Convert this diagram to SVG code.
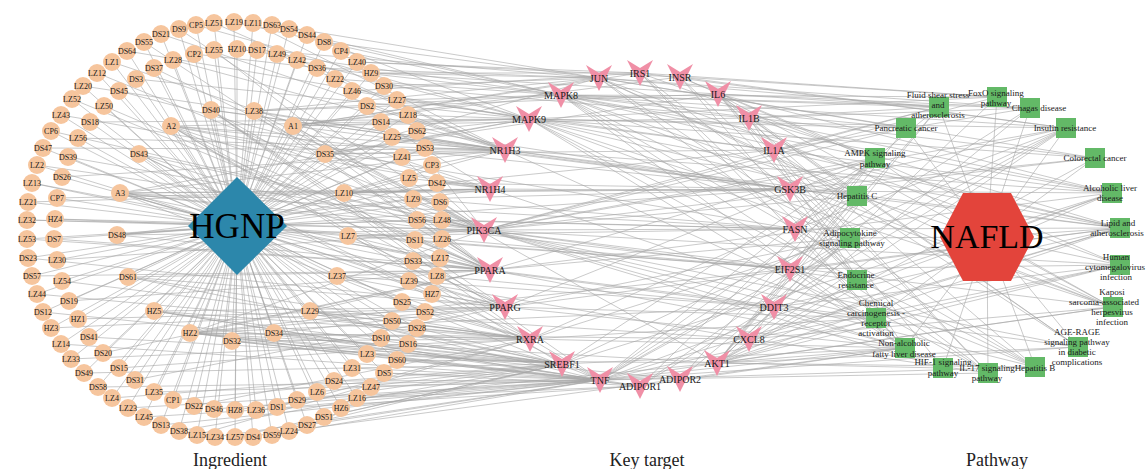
<svg xmlns="http://www.w3.org/2000/svg" xmlns:xlink="http://www.w3.org/1999/xlink" width="1146" height="469" viewBox="0 0 1146 469">
<style>
text{font-family:"Liberation Serif","Times New Roman",serif;fill:#1a1a1a}
.i circle{fill:#F6C59D}
.i text{font-size:8px;text-anchor:middle}
.t use{fill:#F08FA6}
.t text{font-size:10px;text-anchor:middle}
.p rect{fill:#63B967}
.p text{font-size:9px;text-anchor:middle}
#connectors path{fill:none;stroke:#A6A6A6;stroke-width:0.6}
.big{text-anchor:middle;fill:#000}
.cap{font-size:18px;text-anchor:middle;fill:#222}
</style>
<defs>
<path id="chev" d="M-13 -13L0 -5L13 -13L0 13Z"/>
</defs>
<rect width="1146" height="469" fill="#fff"/>
<g id="connectors">
<path id="e-hgnp" d="M237 226L43 148M237 226L51 131M237 226L61 115M237 226L72 99M237 226L83 86M237 226L97 73M237 226L112 62M237 226L127 51M237 226L144 42M237 226L161 34M237 226L179 29M237 226L196 25M237 226L214 23M237 226L234 22M237 226L253 23M237 226L272 25M237 226L289 29M237 226L307 35M237 226L324 42M237 226L341 51M237 226L357 62M237 226L371 73M237 226L384 86M237 226L397 100M237 226L408 115M237 226L417 131M237 226L425 148M237 226L432 165M237 226L437 183M237 226L440 202M237 226L442 220M237 226L442 239M237 226L440 258M237 226L437 276M237 226L432 294M237 226L425 312M237 226L417 328M237 226L408 344M237 226L397 360M237 226L384 373M237 226L371 387M237 226L357 398M237 226L341 408M237 226L324 417M237 226L307 425M237 226L289 431M237 226L272 435M237 226L253 437M237 226L235 437M237 226L215 437M237 226L197 435M237 226L179 431M237 226L161 425M237 226L144 417M237 226L128 408M237 226L112 398M237 226L98 387M237 226L84 373M237 226L71 359M237 226L61 344M237 226L51 328M237 226L43 312M237 226L37 294M237 226L32 276M237 226L28 258M237 226L27 239M237 226L27 220M237 226L28 202M237 226L32 183M237 226L37 165M237 226L237 49M237 226L257 50M237 226L277 54M237 226L297 60M237 226L317 68M237 226L335 79M237 226L352 91M237 226L367 106M237 226L381 122M237 226L392 137M237 226L402 157M237 226L409 178M237 226L413 199M237 226L417 220M237 226L415 240M237 226L413 261M237 226L409 281M237 226L402 302M237 226L392 321M237 226L381 338M237 226L367 354M237 226L352 368M237 226L334 381M237 226L317 392M237 226L297 400M237 226L277 407M237 226L256 410M237 226L235 410M237 226L214 409M237 226L194 406M237 226L173 400M237 226L154 392M237 226L135 380M237 226L119 368M237 226L103 353M237 226L89 337M237 226L78 319M237 226L69 301M237 226L62 281M237 226L57 260M237 226L54 239M237 226L55 219M237 226L57 198M237 226L62 177M237 226L68 157M237 226L78 138M237 226L90 122M237 226L104 106M237 226L119 91M237 226L136 79M237 226L154 68M237 226L173 60M237 226L194 54M237 226L214 50M237 226L211 110M237 226L254 111M237 226L171 126M237 226L293 126M237 226L139 154M237 226L325 154M237 226L120 193M237 226L344 193M237 226L117 235M237 226L348 236M237 226L128 277M237 226L337 276M237 226L154 311M237 226L310 311M237 226L190 333M237 226L274 333M237 226L232 341"/>
<path id="e-hub-target" d="M211 110L490 270M211 110L505 307M211 110L530 339M211 110L600 380M211 110L505 150M211 110L790 189M254 111L561 95M254 111L599 78M254 111L505 150M254 111L484 230M254 111L490 270M254 111L718 94M171 126L490 270M171 126L505 307M171 126L484 230M171 126L490 189M171 126L505 150M171 126L529 119M171 126L562 364M171 126L600 380M171 126L790 189M171 126L795 229M293 126L599 78M293 126L561 95M293 126L529 119M293 126L640 73M293 126L680 77M293 126L749 118M293 126L484 230M293 126L490 270M293 126L790 189M293 126L717 363M139 154L490 270M139 154L484 230M139 154L600 380M139 154L530 339M325 154L529 119M325 154L505 150M325 154L599 78M325 154L718 94M325 154L774 150M120 193L484 230M120 193L490 270M120 193L505 307M120 193L490 189M120 193L505 150M120 193L529 119M120 193L790 189M120 193L795 229M120 193L790 269M120 193L600 380M344 193L505 150M344 193L490 189M344 193L484 230M344 193L790 189M344 193L774 150M344 193L795 229M117 235L484 230M117 235L490 270M117 235L490 189M117 235L790 189M348 236L484 230M348 236L490 270M348 236L505 307M348 236L795 229M348 236L790 269M128 277L490 270M128 277L505 307M128 277L530 339M128 277L562 364M337 276L505 307M337 276L530 339M337 276L490 270M337 276L774 307M154 311L530 339M154 311L562 364M154 311L600 380M154 311L505 307M154 311L640 386M310 311L562 364M310 311L600 380M310 311L530 339M310 311L490 270M310 311L749 339M190 333L490 270M190 333L505 307M190 333L530 339M190 333L562 364M190 333L600 380M190 333L640 386M190 333L680 379M190 333L717 363M190 333L749 339M190 333L774 307M190 333L790 269M190 333L484 230M274 333L530 339M274 333L562 364M274 333L600 380M274 333L505 307M232 341L562 364M232 341L600 380M232 341L640 386M232 341L530 339"/>
<path id="e-outer-target" d="M432 165L505 150M432 165L484 230M437 183L490 189M437 183L790 189M440 202L484 230M442 220L484 230M442 220L795 229M442 239L490 270M442 239L790 269M440 258L490 270M437 276L505 307M437 276L774 307M432 294L505 307M425 312L530 339M417 328L530 339M417 328L562 364M408 344L562 364M397 360L600 380M397 360L717 363M384 373L600 380M384 373L640 386M371 387L600 380M357 398L640 386M357 398L717 363M341 408L600 380M324 417L562 364M307 425L600 380M289 431L680 379M272 435L600 380M253 437L562 364M425 148L505 150M417 131L529 119M417 131L790 189M408 115L529 119M408 115L505 150M397 100L561 95M397 100L774 150M384 86L599 78M384 86L749 118M371 73L599 78M371 73L640 73M371 73L718 94M357 62L640 73M357 62L680 77M341 51L561 95M324 42L599 78M307 35L561 95M289 29L529 119M272 25L599 78M253 23L505 150M234 22L561 95M214 23L505 150M196 25L529 119M179 29L484 230M161 34L505 150M144 42L490 270M127 51L529 119M112 62L490 189M97 73L484 230M83 86L505 150M72 99L490 270M61 115L490 189M51 131L484 230M43 148L505 150M37 165L484 230M32 183L490 270M28 202L490 189M27 220L484 230M27 239L490 270M28 258L505 307M32 276L490 270M37 294L530 339M43 312L562 364M51 328L505 307M61 344L600 380M71 359L530 339M84 373L562 364M98 387L600 380M112 398L562 364M128 408L600 380M144 417L640 386M161 425L600 380M179 431L562 364M197 435L530 339M215 437L600 380M235 437L562 364"/>
<path id="e-inner-target" d="M237 49L561 95M257 50L599 78M277 54L505 150M297 60L529 119M317 68L599 78M335 79L561 95M352 91L529 119M352 91L640 73M367 106L505 150M381 122L490 189M392 137L505 150M392 137L790 189M402 157L484 230M409 178L490 189M413 199L484 230M413 199L790 189M417 220L484 230M417 220L795 229M415 240L490 270M415 240L790 269M413 261L490 270M413 261L774 307M409 281L505 307M409 281L749 339M402 302L530 339M392 321L530 339M381 338L562 364M367 354L562 364M352 368L600 380M334 381L600 380M317 392L562 364M297 400L600 380M277 407L530 339M256 410L600 380M235 410L562 364M214 409L600 380M194 406L530 339M173 400L562 364M154 392L600 380M135 380L505 307M119 368L530 339M103 353L490 270M89 337L562 364M78 319L505 307M69 301L490 270M62 281L530 339M57 260L484 230M54 239L490 270M55 219L484 230M57 198L490 189M62 177L505 150M68 157L484 230M78 138L505 150M90 122L529 119M104 106L490 270M119 91L490 189M136 79L529 119M154 68L484 230M173 60L505 150M194 54L561 95M214 50L490 270"/>
<path id="e-target-pathway" d="M599 78L939 107M599 78L906 128M599 78L857 196M599 78L1035 367M599 78L1120 265M599 78L1112 307M599 78L988 373M599 78L1095 158M599 78L1030 108M640 73L1066 128M640 73L997 97M640 73L875 158M640 73L850 238M640 73L905 348M640 73L857 280M680 77L1066 128M680 77L997 97M680 77L875 158M680 77L850 238M680 77L857 280M680 77L1120 265M718 94L988 373M718 94L1035 367M718 94L857 196M718 94L1030 108M718 94L1078 347M718 94L1112 307M718 94L943 368M718 94L850 238M718 94L939 107M718 94L1112 193M749 118L988 373M749 118L1030 108M749 118L1078 347M749 118L939 107M749 118L1120 228M749 118L1112 193M749 118L905 348M774 150L1030 108M774 150L1078 347M774 150L1120 228M774 150L939 107M790 189L857 196M790 189L1095 158M790 189L1066 128M790 189L1112 307M790 189L857 280M790 189L1120 228M795 229L875 158M795 229L905 348M795 229L1066 128M795 229L850 238M790 269L857 196M790 269L1035 367M790 269L1120 265M790 269L1120 228M790 269L905 348M774 307L1120 228M774 307L905 348M774 307L1078 347M774 307L1120 265M749 339L988 373M749 339L1112 307M749 339L1120 265M749 339L1030 108M749 339L1120 228M749 339L939 107M717 363L997 97M717 363L875 158M717 363L1066 128M717 363L857 196M717 363L1035 367M717 363L943 368M717 363L1095 158M717 363L1112 307M717 363L1078 347M717 363L906 128M717 363L857 280M717 363L876 318M717 363L905 348M717 363L850 238M717 363L1120 265M717 363L1120 228M717 363L1112 193M717 363L939 107M680 379L875 158M680 379L850 238M680 379L905 348M640 386L875 158M640 386L850 238M640 386L905 348M640 386L1066 128M600 380L988 373M600 380L1035 367M600 380L857 196M600 380L850 238M600 380L1066 128M600 380L1112 193M600 380L1120 228M600 380L1078 347M600 380L905 348M600 380L1120 265M600 380L1030 108M600 380L939 107M600 380L1112 307M562 364L875 158M562 364L1066 128M562 364L1112 193M562 364L905 348M530 339L850 238M530 339L905 348M530 339L876 318M530 339L857 196M505 307L850 238M505 307L876 318M505 307L905 348M505 307L875 158M505 307L1120 228M490 270L850 238M490 270L876 318M490 270L875 158M490 270L905 348M490 270L1112 193M484 230L997 97M484 230L875 158M484 230L1066 128M484 230L857 196M484 230L1035 367M484 230L943 368M484 230L1095 158M484 230L1112 307M484 230L1078 347M484 230L906 128M484 230L857 280M484 230L876 318M484 230L905 348M484 230L1120 265M484 230L1120 228M484 230L939 107M490 189L876 318M490 189L1112 193M505 150L876 318M505 150L1112 193M505 150L1120 228M529 119L997 97M529 119L1066 128M529 119L1035 367M529 119L857 196M529 119L850 238M529 119L1095 158M529 119L1120 228M529 119L905 348M529 119L1112 193M529 119L906 128M529 119L988 373M529 119L1112 307M561 95L997 97M561 95L1066 128M561 95L1035 367M561 95L857 196M561 95L850 238M561 95L1095 158M561 95L1120 228M561 95L905 348M561 95L1112 193M561 95L906 128M561 95L988 373M561 95L1112 307M561 95L875 158M561 95L1030 108M561 95L939 107"/>
<path id="e-pathway-nafld" d="M987 237L939 107M987 237L997 97M987 237L1030 108M987 237L1066 128M987 237L1095 158M987 237L1112 193M987 237L1120 228M987 237L1120 265M987 237L1112 307M987 237L1078 347M987 237L1035 367M987 237L988 373M987 237L943 368M987 237L905 348M987 237L876 318M987 237L857 280M987 237L850 238M987 237L857 196M987 237L875 158M987 237L906 128"/>
</g>
<g id="nodes">
<g id="ing-DS47" class="i" transform="translate(43 148)"><circle r="9"/><text y="3">DS47</text></g>
<g id="ing-CP6" class="i" transform="translate(51 131)"><circle r="9"/><text y="3">CP6</text></g>
<g id="ing-LZ43" class="i" transform="translate(61 115)"><circle r="9"/><text y="3">LZ43</text></g>
<g id="ing-LZ52" class="i" transform="translate(72 99)"><circle r="9"/><text y="3">LZ52</text></g>
<g id="ing-LZ20" class="i" transform="translate(83 86)"><circle r="9"/><text y="3">LZ20</text></g>
<g id="ing-LZ12" class="i" transform="translate(97 73)"><circle r="9"/><text y="3">LZ12</text></g>
<g id="ing-LZ1" class="i" transform="translate(112 62)"><circle r="9"/><text y="3">LZ1</text></g>
<g id="ing-DS64" class="i" transform="translate(127 51)"><circle r="9"/><text y="3">DS64</text></g>
<g id="ing-DS55" class="i" transform="translate(144 42)"><circle r="9"/><text y="3">DS55</text></g>
<g id="ing-DS21" class="i" transform="translate(161 34)"><circle r="9"/><text y="3">DS21</text></g>
<g id="ing-DS9" class="i" transform="translate(179 29)"><circle r="9"/><text y="3">DS9</text></g>
<g id="ing-CP5" class="i" transform="translate(196 25)"><circle r="9"/><text y="3">CP5</text></g>
<g id="ing-LZ51" class="i" transform="translate(214 23)"><circle r="9"/><text y="3">LZ51</text></g>
<g id="ing-LZ19" class="i" transform="translate(234 22)"><circle r="9"/><text y="3">LZ19</text></g>
<g id="ing-LZ11" class="i" transform="translate(253 23)"><circle r="9"/><text y="3">LZ11</text></g>
<g id="ing-DS63" class="i" transform="translate(272 25)"><circle r="9"/><text y="3">DS63</text></g>
<g id="ing-DS54" class="i" transform="translate(289 29)"><circle r="9"/><text y="3">DS54</text></g>
<g id="ing-DS44" class="i" transform="translate(307 35)"><circle r="9"/><text y="3">DS44</text></g>
<g id="ing-DS8" class="i" transform="translate(324 42)"><circle r="9"/><text y="3">DS8</text></g>
<g id="ing-CP4" class="i" transform="translate(341 51)"><circle r="9"/><text y="3">CP4</text></g>
<g id="ing-LZ40" class="i" transform="translate(357 62)"><circle r="9"/><text y="3">LZ40</text></g>
<g id="ing-HZ9" class="i" transform="translate(371 73)"><circle r="9"/><text y="3">HZ9</text></g>
<g id="ing-DS30" class="i" transform="translate(384 86)"><circle r="9"/><text y="3">DS30</text></g>
<g id="ing-LZ27" class="i" transform="translate(397 100)"><circle r="9"/><text y="3">LZ27</text></g>
<g id="ing-LZ18" class="i" transform="translate(408 115)"><circle r="9"/><text y="3">LZ18</text></g>
<g id="ing-DS62" class="i" transform="translate(417 131)"><circle r="9"/><text y="3">DS62</text></g>
<g id="ing-DS53" class="i" transform="translate(425 148)"><circle r="9"/><text y="3">DS53</text></g>
<g id="ing-CP3" class="i" transform="translate(432 165)"><circle r="9"/><text y="3">CP3</text></g>
<g id="ing-DS42" class="i" transform="translate(437 183)"><circle r="9"/><text y="3">DS42</text></g>
<g id="ing-DS6" class="i" transform="translate(440 202)"><circle r="9"/><text y="3">DS6</text></g>
<g id="ing-LZ48" class="i" transform="translate(442 220)"><circle r="9"/><text y="3">LZ48</text></g>
<g id="ing-LZ26" class="i" transform="translate(442 239)"><circle r="9"/><text y="3">LZ26</text></g>
<g id="ing-LZ17" class="i" transform="translate(440 258)"><circle r="9"/><text y="3">LZ17</text></g>
<g id="ing-LZ8" class="i" transform="translate(437 276)"><circle r="9"/><text y="3">LZ8</text></g>
<g id="ing-HZ7" class="i" transform="translate(432 294)"><circle r="9"/><text y="3">HZ7</text></g>
<g id="ing-DS52" class="i" transform="translate(425 312)"><circle r="9"/><text y="3">DS52</text></g>
<g id="ing-DS28" class="i" transform="translate(417 328)"><circle r="9"/><text y="3">DS28</text></g>
<g id="ing-DS16" class="i" transform="translate(408 344)"><circle r="9"/><text y="3">DS16</text></g>
<g id="ing-DS60" class="i" transform="translate(397 360)"><circle r="9"/><text y="3">DS60</text></g>
<g id="ing-DS5" class="i" transform="translate(384 373)"><circle r="9"/><text y="3">DS5</text></g>
<g id="ing-LZ47" class="i" transform="translate(371 387)"><circle r="9"/><text y="3">LZ47</text></g>
<g id="ing-LZ16" class="i" transform="translate(357 398)"><circle r="9"/><text y="3">LZ16</text></g>
<g id="ing-HZ6" class="i" transform="translate(341 408)"><circle r="9"/><text y="3">HZ6</text></g>
<g id="ing-DS51" class="i" transform="translate(324 417)"><circle r="9"/><text y="3">DS51</text></g>
<g id="ing-DS27" class="i" transform="translate(307 425)"><circle r="9"/><text y="3">DS27</text></g>
<g id="ing-LZ24" class="i" transform="translate(289 431)"><circle r="9"/><text y="3">LZ24</text></g>
<g id="ing-DS59" class="i" transform="translate(272 435)"><circle r="9"/><text y="3">DS59</text></g>
<g id="ing-DS4" class="i" transform="translate(253 437)"><circle r="9"/><text y="3">DS4</text></g>
<g id="ing-LZ57" class="i" transform="translate(235 437)"><circle r="9"/><text y="3">LZ57</text></g>
<g id="ing-LZ34" class="i" transform="translate(215 437)"><circle r="9"/><text y="3">LZ34</text></g>
<g id="ing-LZ15" class="i" transform="translate(197 435)"><circle r="9"/><text y="3">LZ15</text></g>
<g id="ing-DS38" class="i" transform="translate(179 431)"><circle r="9"/><text y="3">DS38</text></g>
<g id="ing-DS13" class="i" transform="translate(161 425)"><circle r="9"/><text y="3">DS13</text></g>
<g id="ing-LZ45" class="i" transform="translate(144 417)"><circle r="9"/><text y="3">LZ45</text></g>
<g id="ing-LZ23" class="i" transform="translate(128 408)"><circle r="9"/><text y="3">LZ23</text></g>
<g id="ing-LZ4" class="i" transform="translate(112 398)"><circle r="9"/><text y="3">LZ4</text></g>
<g id="ing-DS58" class="i" transform="translate(98 387)"><circle r="9"/><text y="3">DS58</text></g>
<g id="ing-DS49" class="i" transform="translate(84 373)"><circle r="9"/><text y="3">DS49</text></g>
<g id="ing-LZ33" class="i" transform="translate(71 359)"><circle r="9"/><text y="3">LZ33</text></g>
<g id="ing-LZ14" class="i" transform="translate(61 344)"><circle r="9"/><text y="3">LZ14</text></g>
<g id="ing-HZ3" class="i" transform="translate(51 328)"><circle r="9"/><text y="3">HZ3</text></g>
<g id="ing-DS12" class="i" transform="translate(43 312)"><circle r="9"/><text y="3">DS12</text></g>
<g id="ing-LZ44" class="i" transform="translate(37 294)"><circle r="9"/><text y="3">LZ44</text></g>
<g id="ing-DS57" class="i" transform="translate(32 276)"><circle r="9"/><text y="3">DS57</text></g>
<g id="ing-DS23" class="i" transform="translate(28 258)"><circle r="9"/><text y="3">DS23</text></g>
<g id="ing-LZ53" class="i" transform="translate(27 239)"><circle r="9"/><text y="3">LZ53</text></g>
<g id="ing-LZ32" class="i" transform="translate(27 220)"><circle r="9"/><text y="3">LZ32</text></g>
<g id="ing-LZ21" class="i" transform="translate(28 202)"><circle r="9"/><text y="3">LZ21</text></g>
<g id="ing-LZ13" class="i" transform="translate(32 183)"><circle r="9"/><text y="3">LZ13</text></g>
<g id="ing-LZ2" class="i" transform="translate(37 165)"><circle r="9"/><text y="3">LZ2</text></g>
<g id="ing-HZ10" class="i" transform="translate(237 49)"><circle r="9"/><text y="3">HZ10</text></g>
<g id="ing-DS17" class="i" transform="translate(257 50)"><circle r="9"/><text y="3">DS17</text></g>
<g id="ing-LZ49" class="i" transform="translate(277 54)"><circle r="9"/><text y="3">LZ49</text></g>
<g id="ing-LZ42" class="i" transform="translate(297 60)"><circle r="9"/><text y="3">LZ42</text></g>
<g id="ing-DS36" class="i" transform="translate(317 68)"><circle r="9"/><text y="3">DS36</text></g>
<g id="ing-LZ22" class="i" transform="translate(335 79)"><circle r="9"/><text y="3">LZ22</text></g>
<g id="ing-LZ46" class="i" transform="translate(352 91)"><circle r="9"/><text y="3">LZ46</text></g>
<g id="ing-DS2" class="i" transform="translate(367 106)"><circle r="9"/><text y="3">DS2</text></g>
<g id="ing-DS14" class="i" transform="translate(381 122)"><circle r="9"/><text y="3">DS14</text></g>
<g id="ing-LZ25" class="i" transform="translate(392 137)"><circle r="9"/><text y="3">LZ25</text></g>
<g id="ing-LZ41" class="i" transform="translate(402 157)"><circle r="9"/><text y="3">LZ41</text></g>
<g id="ing-LZ5" class="i" transform="translate(409 178)"><circle r="9"/><text y="3">LZ5</text></g>
<g id="ing-LZ9" class="i" transform="translate(413 199)"><circle r="9"/><text y="3">LZ9</text></g>
<g id="ing-DS56" class="i" transform="translate(417 220)"><circle r="9"/><text y="3">DS56</text></g>
<g id="ing-DS11" class="i" transform="translate(415 240)"><circle r="9"/><text y="3">DS11</text></g>
<g id="ing-DS33" class="i" transform="translate(413 261)"><circle r="9"/><text y="3">DS33</text></g>
<g id="ing-LZ39" class="i" transform="translate(409 281)"><circle r="9"/><text y="3">LZ39</text></g>
<g id="ing-DS25" class="i" transform="translate(402 302)"><circle r="9"/><text y="3">DS25</text></g>
<g id="ing-DS50" class="i" transform="translate(392 321)"><circle r="9"/><text y="3">DS50</text></g>
<g id="ing-DS10" class="i" transform="translate(381 338)"><circle r="9"/><text y="3">DS10</text></g>
<g id="ing-LZ3" class="i" transform="translate(367 354)"><circle r="9"/><text y="3">LZ3</text></g>
<g id="ing-LZ31" class="i" transform="translate(352 368)"><circle r="9"/><text y="3">LZ31</text></g>
<g id="ing-DS24" class="i" transform="translate(334 381)"><circle r="9"/><text y="3">DS24</text></g>
<g id="ing-LZ6" class="i" transform="translate(317 392)"><circle r="9"/><text y="3">LZ6</text></g>
<g id="ing-DS29" class="i" transform="translate(297 400)"><circle r="9"/><text y="3">DS29</text></g>
<g id="ing-DS1" class="i" transform="translate(277 407)"><circle r="9"/><text y="3">DS1</text></g>
<g id="ing-LZ36" class="i" transform="translate(256 410)"><circle r="9"/><text y="3">LZ36</text></g>
<g id="ing-HZ8" class="i" transform="translate(235 410)"><circle r="9"/><text y="3">HZ8</text></g>
<g id="ing-DS46" class="i" transform="translate(214 409)"><circle r="9"/><text y="3">DS46</text></g>
<g id="ing-DS22" class="i" transform="translate(194 406)"><circle r="9"/><text y="3">DS22</text></g>
<g id="ing-CP1" class="i" transform="translate(173 400)"><circle r="9"/><text y="3">CP1</text></g>
<g id="ing-LZ35" class="i" transform="translate(154 392)"><circle r="9"/><text y="3">LZ35</text></g>
<g id="ing-DS31" class="i" transform="translate(135 380)"><circle r="9"/><text y="3">DS31</text></g>
<g id="ing-DS15" class="i" transform="translate(119 368)"><circle r="9"/><text y="3">DS15</text></g>
<g id="ing-DS20" class="i" transform="translate(103 353)"><circle r="9"/><text y="3">DS20</text></g>
<g id="ing-DS41" class="i" transform="translate(89 337)"><circle r="9"/><text y="3">DS41</text></g>
<g id="ing-HZ1" class="i" transform="translate(78 319)"><circle r="9"/><text y="3">HZ1</text></g>
<g id="ing-DS19" class="i" transform="translate(69 301)"><circle r="9"/><text y="3">DS19</text></g>
<g id="ing-LZ54" class="i" transform="translate(62 281)"><circle r="9"/><text y="3">LZ54</text></g>
<g id="ing-LZ30" class="i" transform="translate(57 260)"><circle r="9"/><text y="3">LZ30</text></g>
<g id="ing-DS7" class="i" transform="translate(54 239)"><circle r="9"/><text y="3">DS7</text></g>
<g id="ing-HZ4" class="i" transform="translate(55 219)"><circle r="9"/><text y="3">HZ4</text></g>
<g id="ing-CP7" class="i" transform="translate(57 198)"><circle r="9"/><text y="3">CP7</text></g>
<g id="ing-DS26" class="i" transform="translate(62 177)"><circle r="9"/><text y="3">DS26</text></g>
<g id="ing-DS39" class="i" transform="translate(68 157)"><circle r="9"/><text y="3">DS39</text></g>
<g id="ing-LZ56" class="i" transform="translate(78 138)"><circle r="9"/><text y="3">LZ56</text></g>
<g id="ing-DS18" class="i" transform="translate(90 122)"><circle r="9"/><text y="3">DS18</text></g>
<g id="ing-LZ50" class="i" transform="translate(104 106)"><circle r="9"/><text y="3">LZ50</text></g>
<g id="ing-DS45" class="i" transform="translate(119 91)"><circle r="9"/><text y="3">DS45</text></g>
<g id="ing-DS3" class="i" transform="translate(136 79)"><circle r="9"/><text y="3">DS3</text></g>
<g id="ing-DS37" class="i" transform="translate(154 68)"><circle r="9"/><text y="3">DS37</text></g>
<g id="ing-LZ28" class="i" transform="translate(173 60)"><circle r="9"/><text y="3">LZ28</text></g>
<g id="ing-CP2" class="i" transform="translate(194 54)"><circle r="9"/><text y="3">CP2</text></g>
<g id="ing-LZ55" class="i" transform="translate(214 50)"><circle r="9"/><text y="3">LZ55</text></g>
<g id="ing-DS40" class="i" transform="translate(211 110)"><circle r="9"/><text y="3">DS40</text></g>
<g id="ing-LZ38" class="i" transform="translate(254 111)"><circle r="9"/><text y="3">LZ38</text></g>
<g id="ing-A2" class="i" transform="translate(171 126)"><circle r="9"/><text y="3">A2</text></g>
<g id="ing-A1" class="i" transform="translate(293 126)"><circle r="9"/><text y="3">A1</text></g>
<g id="ing-DS43" class="i" transform="translate(139 154)"><circle r="9"/><text y="3">DS43</text></g>
<g id="ing-DS35" class="i" transform="translate(325 154)"><circle r="9"/><text y="3">DS35</text></g>
<g id="ing-A3" class="i" transform="translate(120 193)"><circle r="9"/><text y="3">A3</text></g>
<g id="ing-LZ10" class="i" transform="translate(344 193)"><circle r="9"/><text y="3">LZ10</text></g>
<g id="ing-DS48" class="i" transform="translate(117 235)"><circle r="9"/><text y="3">DS48</text></g>
<g id="ing-LZ7" class="i" transform="translate(348 236)"><circle r="9"/><text y="3">LZ7</text></g>
<g id="ing-DS61" class="i" transform="translate(128 277)"><circle r="9"/><text y="3">DS61</text></g>
<g id="ing-LZ37" class="i" transform="translate(337 276)"><circle r="9"/><text y="3">LZ37</text></g>
<g id="ing-HZ5" class="i" transform="translate(154 311)"><circle r="9"/><text y="3">HZ5</text></g>
<g id="ing-LZ29" class="i" transform="translate(310 311)"><circle r="9"/><text y="3">LZ29</text></g>
<g id="ing-HZ2" class="i" transform="translate(190 333)"><circle r="9"/><text y="3">HZ2</text></g>
<g id="ing-DS34" class="i" transform="translate(274 333)"><circle r="9"/><text y="3">DS34</text></g>
<g id="ing-DS32" class="i" transform="translate(232 341)"><circle r="9"/><text y="3">DS32</text></g>

<g id="HGNP"><polygon points="237,177 287,226 237,275 188,226" fill="#2C87AB"/><text class="big" x="237" y="238" font-size="35">HGNP</text></g>

<g id="tgt-JUN" class="t" transform="translate(599 78)"><use href="#chev"/><text y="3.5">JUN</text></g>
<g id="tgt-IRS1" class="t" transform="translate(640 73)"><use href="#chev"/><text y="3.5">IRS1</text></g>
<g id="tgt-INSR" class="t" transform="translate(680 77)"><use href="#chev"/><text y="3.5">INSR</text></g>
<g id="tgt-IL6" class="t" transform="translate(718 94)"><use href="#chev"/><text y="3.5">IL6</text></g>
<g id="tgt-IL1B" class="t" transform="translate(749 118)"><use href="#chev"/><text y="3.5">IL1B</text></g>
<g id="tgt-IL1A" class="t" transform="translate(774 150)"><use href="#chev"/><text y="3.5">IL1A</text></g>
<g id="tgt-GSK3B" class="t" transform="translate(790 189)"><use href="#chev"/><text y="3.5">GSK3B</text></g>
<g id="tgt-FASN" class="t" transform="translate(795 229)"><use href="#chev"/><text y="3.5">FASN</text></g>
<g id="tgt-EIF2S1" class="t" transform="translate(790 269)"><use href="#chev"/><text y="3.5">EIF2S1</text></g>
<g id="tgt-DDIT3" class="t" transform="translate(774 307)"><use href="#chev"/><text y="3.5">DDIT3</text></g>
<g id="tgt-CXCL8" class="t" transform="translate(749 339)"><use href="#chev"/><text y="3.5">CXCL8</text></g>
<g id="tgt-AKT1" class="t" transform="translate(717 363)"><use href="#chev"/><text y="3.5">AKT1</text></g>
<g id="tgt-ADIPOR2" class="t" transform="translate(680 379)"><use href="#chev"/><text y="3.5">ADIPOR2</text></g>
<g id="tgt-ADIPOR1" class="t" transform="translate(640 386)"><use href="#chev"/><text y="3.5">ADIPOR1</text></g>
<g id="tgt-TNF" class="t" transform="translate(600 380)"><use href="#chev"/><text y="3.5">TNF</text></g>
<g id="tgt-SREBF1" class="t" transform="translate(562 364)"><use href="#chev"/><text y="3.5">SREBF1</text></g>
<g id="tgt-RXRA" class="t" transform="translate(530 339)"><use href="#chev"/><text y="3.5">RXRA</text></g>
<g id="tgt-PPARG" class="t" transform="translate(505 307)"><use href="#chev"/><text y="3.5">PPARG</text></g>
<g id="tgt-PPARA" class="t" transform="translate(490 270)"><use href="#chev"/><text y="3.5">PPARA</text></g>
<g id="tgt-PIK3CA" class="t" transform="translate(484 230)"><use href="#chev"/><text y="3.5">PIK3CA</text></g>
<g id="tgt-NR1H4" class="t" transform="translate(490 189)"><use href="#chev"/><text y="3.5">NR1H4</text></g>
<g id="tgt-NR1H3" class="t" transform="translate(505 150)"><use href="#chev"/><text y="3.5">NR1H3</text></g>
<g id="tgt-MAPK9" class="t" transform="translate(529 119)"><use href="#chev"/><text y="3.5">MAPK9</text></g>
<g id="tgt-MAPK8" class="t" transform="translate(561 95)"><use href="#chev"/><text y="3.5">MAPK8</text></g>

<g id="NAFLD"><polygon points="963,193 1011,193 1034,237 1011,281 963,281 940,237" fill="#E3443B"/><text class="big" x="987" y="248" font-size="34">NAFLD</text></g>

<g id="pw-fluid-shear" class="p"><rect x="929" y="97" width="20" height="20"/><text><tspan x="938" y="98">Fluid shear stress</tspan><tspan x="938" y="108">and</tspan><tspan x="938" y="118">atherosclerosis</tspan></text></g>
<g id="pw-foxo" class="p"><rect x="987" y="87" width="20" height="20"/><text><tspan x="996" y="96">FoxO signaling</tspan><tspan x="996" y="106">pathway</tspan></text></g>
<g id="pw-chagas" class="p"><rect x="1020" y="98" width="20" height="20"/><text x="1039" y="111">Chagas disease</text></g>
<g id="pw-insulin" class="p"><rect x="1056" y="118" width="20" height="20"/><text x="1065" y="131">Insulin resistance</text></g>
<g id="pw-colorectal" class="p"><rect x="1085" y="148" width="20" height="20"/><text x="1095" y="161">Colorectal cancer</text></g>
<g id="pw-alcoholic" class="p"><rect x="1102" y="183" width="20" height="20"/><text><tspan x="1110" y="191">Alcoholic liver</tspan><tspan x="1110" y="201">disease</tspan></text></g>
<g id="pw-lipid" class="p"><rect x="1110" y="218" width="20" height="20"/><text><tspan x="1118" y="226">Lipid and</tspan><tspan x="1117" y="236">atherosclerosis</tspan></text></g>
<g id="pw-hcmv" class="p"><rect x="1110" y="255" width="20" height="20"/><text><tspan x="1116" y="260">Human</tspan><tspan x="1115" y="270">cytomegalovirus</tspan><tspan x="1116" y="280">infection</tspan></text></g>
<g id="pw-kaposi" class="p"><rect x="1103" y="297" width="20" height="20"/><text><tspan x="1112" y="295">Kaposi</tspan><tspan x="1104" y="305">sarcoma-associated</tspan><tspan x="1112" y="315">herpesvirus</tspan><tspan x="1112" y="325">infection</tspan></text></g>
<g id="pw-age-rage" class="p"><rect x="1068" y="337" width="20" height="20"/><text><tspan x="1077" y="335">AGE-RAGE</tspan><tspan x="1077" y="345">signaling pathway</tspan><tspan x="1077" y="355">in diabetic</tspan><tspan x="1077" y="365">complications</tspan></text></g>
<g id="pw-hepb" class="p"><rect x="1025" y="357" width="20" height="20"/><text x="1035" y="371">Hepatitis B</text></g>
<g id="pw-il17" class="p"><rect x="978" y="363" width="20" height="20"/><text><tspan x="987" y="371">IL-17 signaling</tspan><tspan x="987" y="381">pathway</tspan></text></g>
<g id="pw-hif1" class="p"><rect x="933" y="358" width="20" height="20"/><text><tspan x="943" y="365">HIF-1 signaling</tspan><tspan x="943" y="376">pathway</tspan></text></g>
<g id="pw-nafld" class="p"><rect x="895" y="338" width="20" height="20"/><text><tspan x="904" y="346">Non-alcoholic</tspan><tspan x="904" y="357">fatty liver disease</tspan></text></g>
<g id="pw-chemical" class="p"><rect x="866" y="308" width="20" height="20"/><text><tspan x="876" y="306">Chemical</tspan><tspan x="876" y="316">carcinogenesis -</tspan><tspan x="876" y="326">receptor</tspan><tspan x="876" y="336">activation</tspan></text></g>
<g id="pw-endocrine" class="p"><rect x="847" y="270" width="20" height="20"/><text><tspan x="856" y="278">Endocrine</tspan><tspan x="856" y="288">resistance</tspan></text></g>
<g id="pw-adipo" class="p"><rect x="840" y="228" width="20" height="20"/><text><tspan x="850" y="236">Adipocytokine</tspan><tspan x="852" y="246">signaling pathway</tspan></text></g>
<g id="pw-hepc" class="p"><rect x="847" y="186" width="20" height="20"/><text x="857" y="199">Hepatitis C</text></g>
<g id="pw-ampk" class="p"><rect x="865" y="148" width="20" height="20"/><text><tspan x="875" y="156">AMPK signaling</tspan><tspan x="875" y="167">pathway</tspan></text></g>
<g id="pw-pancreatic" class="p"><rect x="896" y="118" width="20" height="20"/><text x="906" y="131">Pancreatic cancer</text></g>
</g>
<g id="captions">
<text class="cap" x="230" y="466">Ingredient</text>
<text class="cap" x="647" y="466">Key target</text>
<text class="cap" x="997" y="466">Pathway</text>
</g>
</svg>
